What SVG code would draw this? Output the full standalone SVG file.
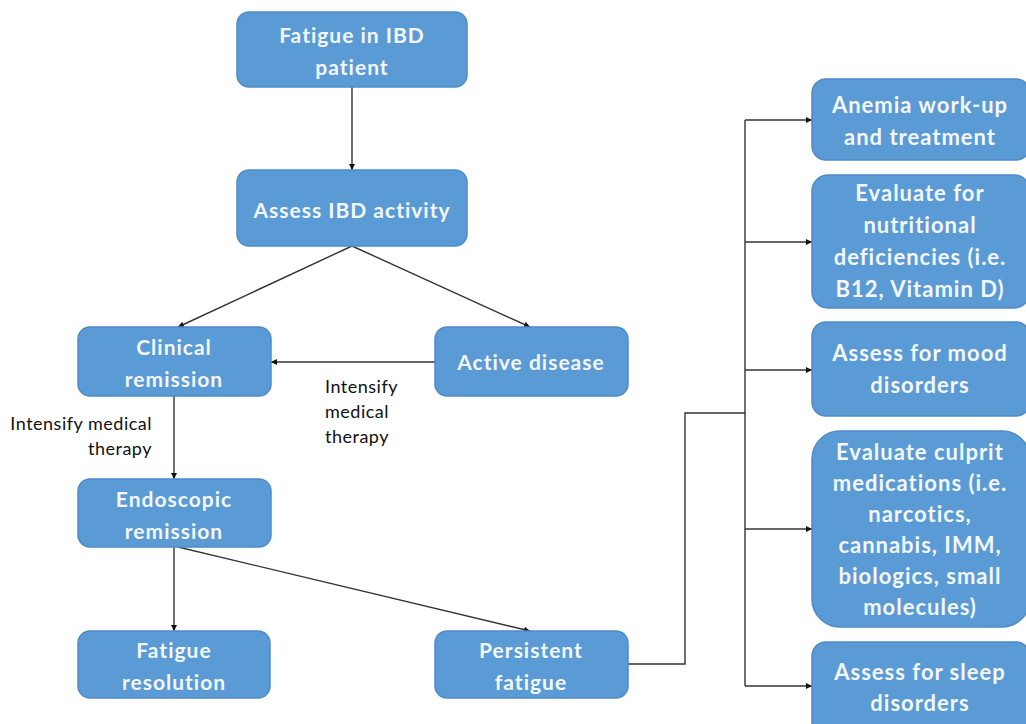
<svg xmlns="http://www.w3.org/2000/svg" width="1026" height="724" viewBox="0 0 1026 724">
<defs>
<style>
.box{fill:#5b9bd5;stroke:#4f8cc6;stroke-width:1.5}
.t{font-family:Lato,"Open Sans","DejaVu Sans",sans-serif;font-weight:bold;font-size:21px;letter-spacing:1px;fill:#f3f7fc;text-anchor:middle}
.tr{font-family:Lato,"Open Sans","DejaVu Sans",sans-serif;font-weight:bold;font-size:22px;letter-spacing:1px;fill:#f3f7fc;text-anchor:middle}
.lbl{font-family:Lato,"Open Sans","DejaVu Sans",sans-serif;font-size:18px;letter-spacing:0.5px;fill:#111}
.c{fill:none;stroke:#333;stroke-width:1.4}
</style>
<marker id="ah" viewBox="0 0 10 10" refX="10" refY="5" markerWidth="6" markerHeight="6" orient="auto" markerUnits="userSpaceOnUse">
<path d="M0,0 L10,5 L0,10 z" fill="#111"/>
</marker>
</defs>
<rect width="1026" height="724" fill="#fff"/>
<g id="connectors">
<path class="c" d="M352,87 L352,170" marker-end="url(#ah)"/>
<path class="c" d="M352,246 L178,327" marker-end="url(#ah)"/>
<path class="c" d="M352,246 L530,327" marker-end="url(#ah)"/>
<path class="c" d="M435,362 L271,362" marker-end="url(#ah)"/>
<path class="c" d="M174,396 L174,479" marker-end="url(#ah)"/>
<path class="c" d="M174,547 L174,631" marker-end="url(#ah)"/>
<path class="c" d="M178,547 L530,631" marker-end="url(#ah)"/>
<path class="c" d="M628,664 L685,664 L685,413 L745,413"/>
<path class="c" d="M745,120 L745,686"/>
<path class="c" d="M745,120 L812,120" marker-end="url(#ah)"/>
<path class="c" d="M745,242 L812,242" marker-end="url(#ah)"/>
<path class="c" d="M745,370 L812,370" marker-end="url(#ah)"/>
<path class="c" d="M745,529 L812,529" marker-end="url(#ah)"/>
<path class="c" d="M745,686 L812,686" marker-end="url(#ah)"/>
<text class="lbl" x="152" y="430" text-anchor="end">Intensify medical</text>
<text class="lbl" x="152" y="455" text-anchor="end">therapy</text>
<text class="lbl" x="325" y="393">Intensify</text>
<text class="lbl" x="325" y="418">medical</text>
<text class="lbl" x="325" y="443">therapy</text>
</g>
<g id="n-fatigue">
<rect class="box" x="237" y="12" width="230" height="75" rx="12"/>
<text class="t" x="352" y="43">Fatigue in IBD</text>
<text class="t" x="352" y="75">patient</text>
</g>
<g id="n-assess">
<rect class="box" x="237" y="170" width="230" height="76" rx="12"/>
<text class="t" x="352" y="218">Assess IBD activity</text>
</g>
<g id="n-clinical">
<rect class="box" x="78" y="327" width="193" height="69" rx="12"/>
<text class="t" x="174" y="355">Clinical</text>
<text class="t" x="174" y="387">remission</text>
</g>
<g id="n-active">
<rect class="box" x="435" y="327" width="193" height="69" rx="12"/>
<text class="t" x="531" y="370">Active disease</text>
</g>
<g id="n-endoscopic">
<rect class="box" x="78" y="479" width="193" height="68" rx="12"/>
<text class="t" x="174" y="507">Endoscopic</text>
<text class="t" x="174" y="539">remission</text>
</g>
<g id="n-resolution">
<rect class="box" x="78" y="631" width="192" height="67" rx="12"/>
<text class="t" x="174" y="658">Fatigue</text>
<text class="t" x="174" y="690">resolution</text>
</g>
<g id="n-persistent">
<rect class="box" x="435" y="631" width="193" height="67" rx="12"/>
<text class="t" x="531" y="658">Persistent</text>
<text class="t" x="531" y="690">fatigue</text>
</g>
<g id="n-anemia">
<rect class="box" x="812" y="79" width="218" height="81" rx="14"/>
<text class="tr" x="920" y="113">Anemia work-up</text>
<text class="tr" x="920" y="145">and treatment</text>
</g>
<g id="n-nutrition">
<rect class="box" x="812" y="175" width="218" height="133" rx="16"/>
<text class="tr" x="920" y="201">Evaluate for</text>
<text class="tr" x="920" y="233">nutritional</text>
<text class="tr" x="920" y="265">deficiencies (i.e.</text>
<text class="tr" x="920" y="297">B12, Vitamin D)</text>
</g>
<g id="n-mood">
<rect class="box" x="812" y="322" width="218" height="94" rx="14"/>
<text class="tr" x="920" y="361">Assess for mood</text>
<text class="tr" x="920" y="393">disorders</text>
</g>
<g id="n-culprit">
<rect class="box" x="812" y="431" width="218" height="196" rx="28"/>
<text class="tr" x="920" y="460">Evaluate culprit</text>
<text class="tr" x="920" y="491">medications (i.e.</text>
<text class="tr" x="920" y="522">narcotics,</text>
<text class="tr" x="920" y="553">cannabis, IMM,</text>
<text class="tr" x="920" y="584">biologics, small</text>
<text class="tr" x="920" y="615">molecules)</text>
</g>
<g id="n-sleep">
<rect class="box" x="812" y="642" width="218" height="95" rx="14"/>
<text class="tr" x="920" y="680">Assess for sleep</text>
<text class="tr" x="920" y="711">disorders</text>
</g>
</svg>
